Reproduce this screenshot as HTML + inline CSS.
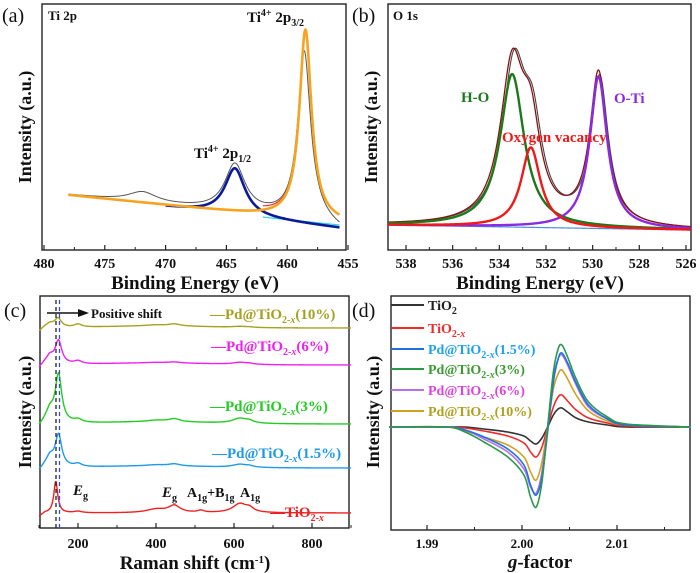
<!DOCTYPE html>
<html><head><meta charset="utf-8"><style>
body{margin:0;background:#fff;}
svg{display:block;font-family:"Liberation Serif",serif;}
</style></head><body>
<svg id="fig" width="700" height="573" viewBox="0 0 700 573" xmlns="http://www.w3.org/2000/svg">
<g id="pa"></g>
<g id="pb"></g>
<g id="pc"></g>
<g id="pd"></g>
</svg>
<script>
// ---------- data ----------
const aTicks = [480, 475, 470, 465, 460, 455];
const aBackground = [[478, 45], [455.7, 17]];
const aBackgroundBlue = [[478, 45], [455.7, 12]];
const aPeak32 = [458.5, 0.6, 190];
const aPeak12 = [464.3, 1.0, 47];
const aSatellite = [471.9, 1.4, 10];
const bTicks = [538, 536, 534, 532, 530, 528, 526];
const bBackground = [[538.8, 15], [525.8, 10]];
const bHO = [533.45, 0.62, 153];
const bVac = [532.65, 0.5, 80];
const bOTi = [529.75, 0.45, 152];
const cTicks = [200, 400, 600, 800];
const cSeriesNames = ["TiO2-x", "Pd@TiO2-x(1.5%)", "Pd@TiO2-x(3%)", "Pd@TiO2-x(6%)", "Pd@TiO2-x(10%)"];
const cOffsets = [60, 105, 149, 208, 245];
const cMainPos = [143, 150, 150, 150, 149];
const cMainHeight = [32, 32, 48, 23, 9];
const cShoulder = [0, 10, 12, 8, 4];
const cBump400 = [7, 2, 3, 1, 2];
const cBump630 = [9, 3, 5, 2, 1];
const dG = [1.986,1.992,1.994,1.996,1.9985,2.0002,2.0009,2.0015,2.0021,2.0027,2.0033,2.0038,2.0042,2.0048,2.0057,2.007,2.009,2.011,2.0177];
const dTiO2 =   [0,0,0,-2,-5,-9,-14,-17,-11,0,12,18,19,15,9,5,2,0,0];
const dTiO2x =  [0,0,-1,-4,-9,-16,-25,-30,-20,0,20,30,32,26,17,9,4,1,0];
const dPd15 =   [0,0,-3,-10,-22,-38,-58,-68,-50,-5,45,68,74,64,44,22,8,2,0];
const dPd3 =    [0,0,-5,-15,-30,-48,-70,-80,-55,0,55,78,82,70,48,25,10,3,0];
const dPd6 =    [0,0,-3,-12,-25,-42,-60,-66,-45,0,48,68,72,62,42,20,8,2,0];
const dPd10 =   [0,0,-4,-10,-18,-30,-45,-53,-35,0,38,53,57,48,32,16,6,2,0];
const dTicks = [1.99, 2.00, 2.01];

// ---------- helpers ----------
const NS = "http://www.w3.org/2000/svg";
function mk(parent, tag, attrs){const e=document.createElementNS(NS,tag);for(const k in attrs)e.setAttribute(k,attrs[k]);parent.appendChild(e);return e;}
function lor(x,p){return p[2]/(1+Math.pow((x-p[0])/p[1],2));}
function lin(x,seg){const t=(x-seg[0][0])/(seg[1][0]-seg[0][0]);return seg[0][1]+t*(seg[1][1]-seg[0][1]);}
function txt(parent,x,y,s,size,fill,anchor,extra){const t=mk(parent,"text",Object.assign({x:x,y:y,"font-size":size,fill:fill||"#111","text-anchor":anchor||"start","font-weight":"bold"},extra||{}));t.innerHTML=s;return t;}
function polyline(parent,xs,fx,fy,fv,color,w){let d="";xs.forEach((x,i)=>{d+=(i?"L":"M")+fx(x).toFixed(2)+","+fy(fv(x)).toFixed(2);});return mk(parent,"path",{d:d,fill:"none",stroke:color,"stroke-width":w,"stroke-linejoin":"round"});}
function range(a,b,st){const r=[];if(a<b){for(let x=a;x<=b+1e-9;x+=st)r.push(x);}else{for(let x=a;x>=b-1e-9;x-=st)r.push(x);}return r;}
function frame(g,x0,y0,x1,y1){const r=mk(g,"rect",{x:x0,y:y0,width:x1-x0,height:y1-y0,fill:"none",stroke:"#222","stroke-width":1.4});}
function ytitle(g,x,y){const t=txt(g,x,y,"Intensity (a.u.)",18,"#111","middle",{transform:"rotate(-90 "+x+" "+y+")"});}

// ---------- panel a ----------
(function(){
const g=document.getElementById("pa");
const X0=42,X1=346,Y0=4,Y1=250;
const xa=e=>44+(480-e)*12.16;
const ya=v=>240-v;
frame(g,X0,Y0,X1,Y1);
aTicks.forEach(t=>{mk(g,"line",{x1:xa(t),x2:xa(t),y1:Y1,y2:Y1-5,stroke:"#222","stroke-width":1.2});
 const l=txt(g,xa(t),268,String(t),14,"#111","middle");});
for(let t=477.5;t>455;t-=5){mk(g,"line",{x1:xa(t),x2:xa(t),y1:Y1,y2:Y1-3,stroke:"#222","stroke-width":1});}
const xs=range(478,455.7,0.05);
const raw=x=>lin(x,aBackground)+lor(x-0.1,[aPeak32[0],aPeak32[1]*1.05,aPeak32[2]*0.88])+lor(x,aPeak12)+lor(x,aSatellite);
let p=polyline(g,xs,xa,ya,x=>raw(x)+ (x<457.5? -Math.max(0,(457.5-x))*4:0),"#555",1);
p=polyline(g,range(462,455.7,0.05),xa,ya,x=>lin(x,aBackground)-2,"#29d6e6",1.2);
p=polyline(g,range(462,459,0.05),xa,ya,x=>lin(x,aBackground)+lor(x,aPeak32)+lor(x,aPeak12)*0.4+1,"#e83030",1.2);
p=polyline(g,range(470,455.7,0.05),xa,ya,x=>lin(x,aBackgroundBlue)+lor(x,aPeak12),"#0a1a9a",2.6);
p=polyline(g,xs,xa,ya,x=>lin(x,aBackground)+lor(x,aPeak32),"#f6a420",2.6);
let t=txt(g,2,22,"(a)",20,"#111","start",{"font-weight":"normal"});
t=txt(g,48,20,"Ti 2p",13);
t=txt(g,247,22,'Ti<tspan dy="-6" font-size="10">4+</tspan><tspan dy="6"> 2p</tspan><tspan dy="4" font-size="10">3/2</tspan>',15);
t=txt(g,194,158,'Ti<tspan dy="-6" font-size="10">4+</tspan><tspan dy="6"> 2p</tspan><tspan dy="4" font-size="10">1/2</tspan>',15);
t=txt(g,195,289,"Binding Energy (eV)",19,"#111","middle");
ytitle(g,31,127);
})();

// ---------- panel b ----------
(function(){
const g=document.getElementById("pb");
const X0=388,X1=691,Y0=4,Y1=250;
const xb=e=>406+(538-e)*23.33;
const yb=v=>240-v;
frame(g,X0,Y0,X1,Y1);
bTicks.forEach(t=>{mk(g,"line",{x1:xb(t),x2:xb(t),y1:Y1,y2:Y1-5,stroke:"#222","stroke-width":1.2});
 const l=txt(g,xb(t),268,String(t),14,"#111","middle");});
for(let t=537;t>526;t-=2){mk(g,"line",{x1:xb(t),x2:xb(t),y1:Y1,y2:Y1-3,stroke:"#222","stroke-width":1});}
const xs=range(538.8,525.8,0.02);
const bg=x=>lin(x,bBackground);
let p=polyline(g,xs,xb,yb,bg,"#4a90e0",1.2);
p=polyline(g,xs,xb,yb,x=>bg(x)+lor(x+0.08,bHO)+lor(x+0.08,bVac)+lor(x+0.05,bOTi)*0.97,"#444",1.1);
p=polyline(g,xs,xb,yb,x=>bg(x)+lor(x,bHO)+lor(x,bVac)+lor(x,bOTi),"#8b1010",1.3);
p=polyline(g,xs,xb,yb,x=>bg(x)+lor(x,bHO),"#1a7a1a",2.4);
p=polyline(g,xs,xb,yb,x=>bg(x)+lor(x,bOTi),"#8a2be2",2.4);
p=polyline(g,xs,xb,yb,x=>bg(x)+lor(x,bVac),"#f01818",2.4);
let t=txt(g,352,22,"(b)",20,"#111","start",{"font-weight":"normal"});
t=txt(g,393,20,"O 1s",13);
t=txt(g,461,102,"H-O",15,"#1a7a1a");
t=txt(g,614,103,"O-Ti",15,"#8a2be2");
t=txt(g,502,142,"Oxygen vacancy",15,"#f01818");
t=txt(g,540,289,"Binding Energy (eV)",19,"#111","middle");
ytitle(g,377,127);
})();

// ---------- panel c ----------
(function(){
const g=document.getElementById("pc");
const X0=40,X1=349,Y0=296,Y1=528;
const xc=w=>39+(w-100)*0.39;
const yc=v=>573-v;
frame(g,X0,Y0,X1,Y1);
cTicks.forEach(t=>{mk(g,"line",{x1:xc(t),x2:xc(t),y1:Y1,y2:Y1-5,stroke:"#222","stroke-width":1.2});
 const l=txt(g,xc(t),548,String(t),14,"#111","middle");});
[100,300,500,700,900].forEach(t=>mk(g,"line",{x1:xc(t),x2:xc(t),y1:Y1,y2:Y1-3,stroke:"#222","stroke-width":1}));
const colors=["#f02020","#1e9ae8","#22cc22","#f020f0","#a8a020"];
const names=["raman-tio2-x","raman-pd-1-5","raman-pd-3","raman-pd-6","raman-pd-10"];
const xs=range(100,900,2);
cSeriesNames.forEach((nm,i)=>{
 const f=x=>cOffsets[i]+lor(x,[cMainPos[i],i?10:6,cMainHeight[i]])+lor(x,[128,12,cShoulder[i]])+lor(x,[200,12,i?3:1.5])+lor(x,[447,18,cBump400[i]])+lor(x,[400,30,cBump400[i]*0.5])+lor(x,[515,10,i?0:2])+lor(x,[615,22,cBump630[i]])+lor(x,[640,12,cBump630[i]*0.4])-(x<115?(115-x)*0.25:0)+ (i?2*Math.exp(-Math.pow((x-400)/200,2)):0);
 const p=polyline(g,xs,xc,yc,f,colors[i],1.4);
 
 
});
mk(g,"line",{x1:56,x2:56,y1:300,y2:528,stroke:"#222","stroke-width":1.3,"stroke-dasharray":"4,3"});
mk(g,"line",{x1:59.5,x2:59.5,y1:300,y2:528,stroke:"#3050e0","stroke-width":1.3,"stroke-dasharray":"4,3"});
mk(g,"line",{x1:47,x2:80,y1:313,y2:313,stroke:"#111","stroke-width":1.5});
mk(g,"polygon",{points:"78,309 89,313 78,317",fill:"#111"});
let t=txt(g,91,318,"Positive shift",13);
t=txt(g,4,317,"(c)",20,"#111","start",{"font-weight":"normal"});
const lab=[[270,517,"—TiO<tspan dy='4' font-size='10'>2-<tspan font-style='italic'>x</tspan></tspan>"],[212,458,"—Pd@TiO<tspan dy='4' font-size='10'>2-<tspan font-style='italic'>x</tspan></tspan><tspan dy='-4'>(1.5%)</tspan>"],[210,411,"—Pd@TiO<tspan dy='4' font-size='10'>2-<tspan font-style='italic'>x</tspan></tspan><tspan dy='-4'>(3%)</tspan>"],[211,351,"—Pd@TiO<tspan dy='4' font-size='10'>2-<tspan font-style='italic'>x</tspan></tspan><tspan dy='-4'>(6%)</tspan>"],[210,319,"—Pd@TiO<tspan dy='4' font-size='10'>2-<tspan font-style='italic'>x</tspan></tspan><tspan dy='-4'>(10%)</tspan>"]];
lab.forEach((l,i)=>{const e=txt(g,l[0],l[1],l[2],15,colors[i]);});
t=txt(g,73,495,"<tspan font-style='italic'>E</tspan><tspan dy='4' font-size='10'>g</tspan>",15);
t=txt(g,162,497,"<tspan font-style='italic'>E</tspan><tspan dy='4' font-size='10'>g</tspan>",15);
t=txt(g,187,497,"A<tspan dy='4' font-size='10'>1g</tspan><tspan dy='-4'>+B</tspan><tspan dy='4' font-size='10'>1g</tspan>",14);
t=txt(g,240,497,"A<tspan dy='4' font-size='10'>1g</tspan>",14);
t=txt(g,195,569,"Raman shift (cm<tspan dy='-6' font-size='11'>-1</tspan><tspan dy='6'>)</tspan>",19,"#111","middle");
ytitle(g,31,412);
})();

// ---------- panel d ----------
(function(){
const g=document.getElementById("pd");
const X0=391,X1=690,Y0=296,Y1=530;
const xd=v=>427+(v-1.99)*9500;
const yd=v=>427-v;
frame(g,X0,Y0,X1,Y1);
dTicks.forEach(t=>{mk(g,"line",{x1:xd(t),x2:xd(t),y1:Y1,y2:Y1-5,stroke:"#222","stroke-width":1.2});
 const l=txt(g,xd(t),548,t.toFixed(2),13,"#111","middle");});
[1.995,2.005,2.015].forEach(t=>mk(g,"line",{x1:xd(t),x2:xd(t),y1:Y1,y2:Y1-3,stroke:"#222","stroke-width":1}));
const series=[dTiO2,dTiO2x,dPd10,dPd6,dPd15,dPd3];
const colors=["#333","#f02a2a","#d4a020","#b870e8","#2070e0","#2a9a4a"];
const names=["epr-tio2","epr-tio2-x","epr-pd-10","epr-pd-6","epr-pd-1-5","epr-pd-3"];
series.forEach((s,i)=>{
 const pts=dG.map((gv,k)=>[xd(gv),yd(s[k])]);
 let d="M"+pts[0][0]+","+pts[0][1];
 for(let k=0;k<pts.length-1;k++){const p0=pts[k-1]||pts[k],p1=pts[k],p2=pts[k+1],p3=pts[k+2]||p2;
  d+="C"+(p1[0]+(p2[0]-p0[0])/6).toFixed(2)+","+(p1[1]+(p2[1]-p0[1])/6).toFixed(2)+" "+(p2[0]-(p3[0]-p1[0])/6).toFixed(2)+","+(p2[1]-(p3[1]-p1[1])/6).toFixed(2)+" "+p2[0].toFixed(2)+","+p2[1].toFixed(2);}
 const p=mk(g,"path",{d:d,fill:"none",stroke:colors[i],"stroke-width":1.6});
 
 
});
const leg=[["#333","#222","TiO<tspan dy='4' font-size='10'>2</tspan>"],["#f02a2a","#f02a2a","TiO<tspan dy='4' font-size='10'>2-<tspan font-style='italic'>x</tspan></tspan>"],["#2070e0","#1ea0f0","Pd@TiO<tspan dy='4' font-size='10'>2-<tspan font-style='italic'>x</tspan></tspan><tspan dy='-4'>(1.5%)</tspan>"],["#2a9a4a","#3a9a30","Pd@TiO<tspan dy='4' font-size='10'>2-<tspan font-style='italic'>x</tspan></tspan><tspan dy='-4'>(3%)</tspan>"],["#b870e8","#e040e0","Pd@TiO<tspan dy='4' font-size='10'>2-<tspan font-style='italic'>x</tspan></tspan><tspan dy='-4'>(6%)</tspan>"],["#d4a020","#b0a020","Pd@TiO<tspan dy='4' font-size='10'>2-<tspan font-style='italic'>x</tspan></tspan><tspan dy='-4'>(10%)</tspan>"]];
const ly=[305,328,349,369,390,411];
leg.forEach((l,i)=>{const gg=mk(g,"g",{});
 mk(gg,"line",{x1:391,x2:424,y1:ly[i],y2:ly[i],stroke:l[0],"stroke-width":2});
 txt(gg,428,ly[i]+5,l[2],14,l[1]);});
let t=txt(g,352,317,"(d)",20,"#111","start",{"font-weight":"normal"});
t=txt(g,540,568,"<tspan font-style='italic'>g</tspan>-factor",19,"#111","middle");
ytitle(g,379,412);
})();
</script>
</body></html>
